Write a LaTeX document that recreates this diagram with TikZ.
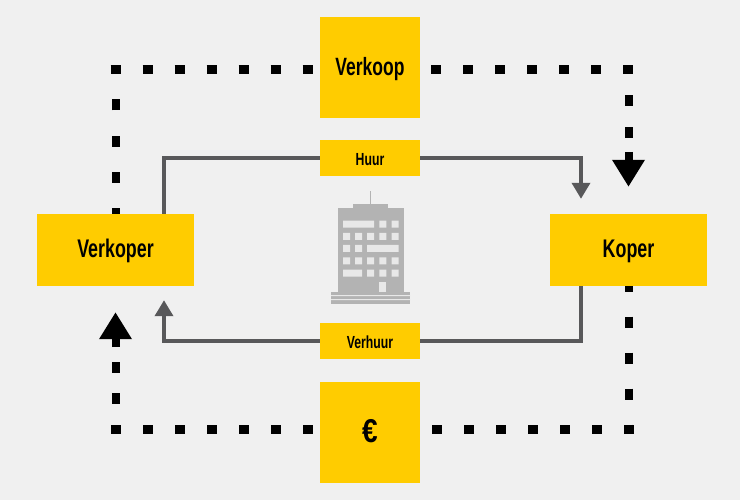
\documentclass[tikz,border=0pt]{standalone}
\usepackage{fontspec}
\setmainfont[FakeStretch=0.7]{Liberation Sans}
\newfontfamily\eurofont[FakeStretch=0.85]{Liberation Sans}
\usetikzlibrary{arrows.meta}
\definecolor{geel}{HTML}{FFCC00}
\definecolor{achtergrond}{HTML}{F0F0F0}
\definecolor{lijn}{HTML}{58585A}
\definecolor{gebouw}{HTML}{B3B3B3}
\definecolor{raam}{HTML}{E8E8E8}
\tikzset{
  vlak/.style={fill=geel, inner sep=0pt, font=\bfseries},
  groot/.style={vlak, minimum width=100pt, minimum height=101pt, text height=18pt, text depth=1pt, font=\bfseries\fontsize{25}{25}\selectfont},
  klein/.style={vlak, minimum width=100pt, minimum height=36pt, text height=15.4pt, text depth=0pt, font=\bfseries\fontsize{17.5}{17.5}\selectfont},
  partij/.style={vlak, minimum width=157pt, minimum height=72pt, text height=18pt, text depth=3pt, font=\bfseries\fontsize{25.5}{25.5}\selectfont},
  stiph/.style={black, line width=9pt, dash pattern=on 10pt off 22pt},
  stipv/.style={black, line width=8pt},
  zwartpijl/.style={-{Triangle[width=31pt,length=27pt]}},
  grijs/.style={lijn, line width=3.6pt},
  grijspijl/.style={grijs, -{Triangle[width=18pt,length=16pt]}},
}
\begin{document}
\begin{tikzpicture}[x=1pt, y=-1pt]
\fill[achtergrond] (0,0) rectangle (740,500);
\useasboundingbox (0,0) rectangle (740,500);
%
\node[groot] (verkoop) at (370,67.5) {Verkoop};
\node[klein] (huur) at (370,158) {Huur};
\node[partij] (verkoper) at (115.5,250) {Verkoper};
\node[partij] (koper) at (628.5,250) {Koper};
\node[klein] (verhuur) at (370,341) {Verhuur};
\node[groot, text height=24pt, text depth=5pt, font=\eurofont\bfseries\fontsize{33}{33}\selectfont] (euro) at (370,432.5) {€};
%
\coordinate (hoekLB) at (110.5,69.5);
\coordinate (hoekRB) at (633.5,69.5);
\coordinate (hoekRO) at (633.5,429.5);
\coordinate (hoekLO) at (110.5,429.5);
%
% stippellijn boven
\draw[stipv, dash pattern=on 11pt off 25.3pt, dash phase=5.5pt] (verkoper.north) -- (verkoper.north |- hoekLB);
\draw[stiph] (hoekLB) -- (hoekLB -| verkoop.west);
\draw[stiph, dash phase=21pt] (hoekRB -| verkoop.east) -- (hoekRB);
\draw[stipv, zwartpijl, shorten >=27pt, dash pattern=on 5pt off 21pt on 11pt off 21pt on 11pt off 13.5pt on 40pt off 0pt] (koper.north |- hoekRB) -- (koper.north);
%
% stippellijn onder
\draw[stipv, dash pattern=on 11pt off 25pt, dash phase=5.5pt] (koper.south) -- (koper.south |- hoekRO);
\draw[stiph] (hoekRO) -- (hoekRO -| euro.east);
\draw[stiph, dash phase=25pt] (hoekLO -| euro.west) -- (hoekLO);
\draw[stipv, zwartpijl, shorten >=26pt, dash pattern=on 5pt off 21pt on 11pt off 20pt on 11pt off 14.5pt on 40pt off 0pt] (verkoper.south |- hoekLO) -- (verkoper.south);
%
% grijze lijnen
\draw[grijs] ([xshift=48.5pt]verkoper.north) |- (huur.west);
\draw[grijspijl, shorten >=15pt] (huur.east) -| ([xshift=-47.5pt]koper.north);
\draw[grijs] ([xshift=-47.5pt]koper.south) |- (verhuur.east);
\draw[grijspijl, shorten >=14pt] (verhuur.west) -| ([xshift=48.5pt]verkoper.south);
%
% gebouw
\draw[gebouw, line width=1pt] (370.5,191.5) -- (370.5,204);
\draw[gebouw, line width=1.6pt] (370.5,195) -- (370.5,202);
\fill[gebouw] (352.7,204) rectangle (388.3,209);
\fill[gebouw] (338,208.3) rectangle (404,292);
\fill[gebouw] (331,292.3) rectangle (410,304);
\fill[raam] (331,295.2) rectangle (410,296.2) (331,299.2) rectangle (410,300.2);
\fill[raam] (343,220.7) rectangle (374,227.7) (379.3,220.7) rectangle (386.3,227.7) (391.7,220.7) rectangle (398.7,227.7);
\fill[raam] (343,233) rectangle (350,240) (355,233) rectangle (362,240) (367,233) rectangle (374,240) (379.3,233) rectangle (386.3,240) (391.7,233) rectangle (398.7,240);
\fill[raam] (343,245) rectangle (350,252) (355,245) rectangle (362,252) (367,245) rectangle (398.7,252);
\fill[raam] (343,257.3) rectangle (350,264.3) (355,257.3) rectangle (362,264.3) (367,257.3) rectangle (374,264.3) (379.3,257.3) rectangle (386.3,264.3) (391.7,257.3) rectangle (398.7,264.3);
\fill[raam] (343,269.7) rectangle (362,276.7) (367,269.7) rectangle (374,276.7) (379.3,269.7) rectangle (386.3,276.7) (391.7,269.7) rectangle (398.7,276.7);
\fill[raam] (379.3,281.7) rectangle (386.3,292);
\end{tikzpicture}
\end{document}
